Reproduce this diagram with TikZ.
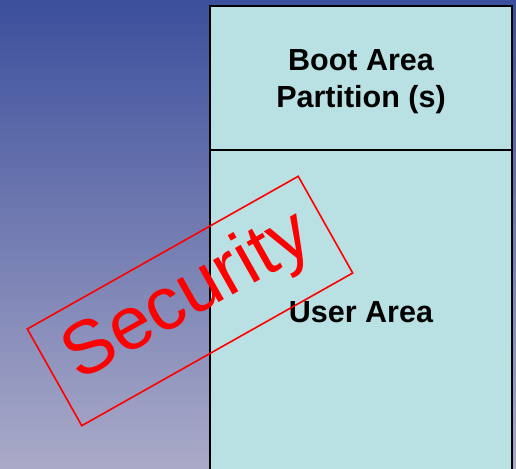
\documentclass[tikz,border=0pt]{standalone}
\usepackage{fontspec}
\setmainfont{Liberation Sans}
\definecolor{bgtop}{RGB}{60,79,156}
\definecolor{bgbot}{RGB}{170,170,200}
\definecolor{boxc}{RGB}{185,224,226}
\definecolor{stampred}{RGB}{255,0,0}
\begin{document}
\begin{tikzpicture}[x=1pt,y=-1pt,
  arealabel/.style={font=\fontsize{30.5}{37}\selectfont\bfseries, align=center, inner sep=0pt},
  stampframe/.style={draw=stampred, line width=1.6pt, rotate=29.4, minimum width=311pt, minimum height=111pt, inner sep=0pt},
  stamptext/.style={text=stampred, font=\fontsize{75}{80}\selectfont, rotate=29.4, inner sep=0pt, anchor=base}]
  \useasboundingbox (0,0) rectangle (516,468);
  \begin{scope}
    \clip (0,0) rectangle (516,468);
    \shade[top color=bgtop, bottom color=bgbot] (0,0) rectangle (516,468);
    \draw[fill=boxc, line width=2.5pt] (210,6) rectangle (512,480);
    \draw[line width=2.5pt] (210,150) -- (512,150);
  \end{scope}
  \node[arealabel] (boot) at (361,82) {Boot Area\\Partition (s)};
  \node[arealabel, anchor=base] (user) at (361,322) {User Area};
  \node[stampframe] (frame) at (190,301) {};
  \node[stamptext] (sec) at (197.9,314.9) {Security};
\end{tikzpicture}
\end{document}
